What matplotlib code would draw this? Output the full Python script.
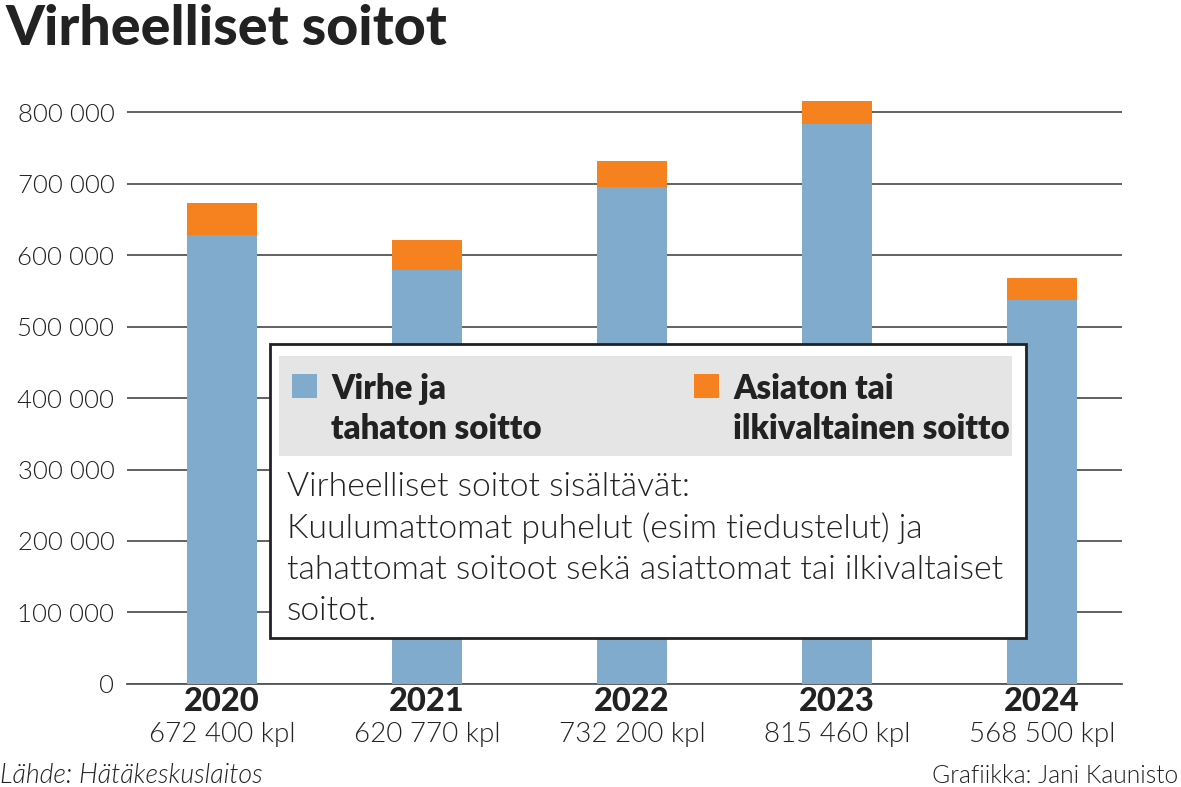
import numpy as np
import matplotlib
matplotlib.use("Agg")
import matplotlib.pyplot as plt
from matplotlib.patches import Rectangle
from matplotlib.ticker import FuncFormatter

plt.rcParams['font.family'] = ['Lato', 'DejaVu Sans']

# data
years = ['2020', '2021', '2022', '2023', '2024']
totals = [672400, 620770, 732200, 815460, 568500]
virhe = [627600, 579000, 695500, 783200, 537500]
asiaton = [t - v for t, v in zip(totals, virhe)]
yticks = [0, 100000, 200000, 300000, 400000, 500000, 600000, 700000, 800000]
legend_blue = ['Virhe ja', 'tahaton soitto']
legend_orange = ['Asiaton tai', 'ilkivaltainen soitto']
note_lines = ['Virheelliset soitot sisältävät:',
              'Kuulumattomat puhelut (esim tiedustelut) ja',
              'tahattomat soitoot sekä asiattomat tai ilkivaltaiset',
              'soitot.']

BLUE = '#80abcc'
ORANGE = '#f5821f'
TXT = '#222222'
W, H = 1181, 787


def fx(px):
    return px / W


def fy(py):
    return 1 - py / H


def space_fmt(v):
    return f"{int(v):,}".replace(',', ' ')


fig = plt.figure(figsize=(11.81, 7.87), dpi=100)
ax = fig.add_axes([0.1075, 0.1309, 0.8425, 0.754])

x = np.arange(len(years))
ax.bar(x, virhe, width=0.34, color=BLUE, zorder=3)
ax.bar(x, asiaton, width=0.34, bottom=virhe, color=ORANGE, zorder=3)

ax.set_xlim(-0.463, 4.391)
ax.set_ylim(0, 830000)
ax.set_yticks(yticks)
ax.yaxis.set_major_formatter(FuncFormatter(lambda v, p: space_fmt(v)))
ax.grid(axis='y', color='#555555', linewidth=1.3, zorder=0)
ax.tick_params(axis='y', length=0, pad=9, labelsize=18.5, labelcolor=TXT)
for lab in ax.get_yticklabels():
    lab.set_fontweight(300)
ax.set_xticks([])
for s in ['top', 'right', 'left']:
    ax.spines[s].set_visible(False)
ax.spines['bottom'].set_color('#555555')
ax.spines['bottom'].set_linewidth(1.3)

for i, (yr, tot) in enumerate(zip(years, totals)):
    ax.annotate(yr, xy=(i, 0), xycoords=('data', 'axes fraction'), xytext=(0, -27),
                textcoords='offset pixels', ha='center', va='baseline',
                fontsize=23.5, fontweight='black', color=TXT)
    ax.annotate(space_fmt(tot) + ' kpl', xy=(i, 0),
                xycoords=('data', 'axes fraction'), xytext=(0, -58),
                textcoords='offset pixels', ha='center', va='baseline',
                fontsize=20, fontweight=300, color=TXT)

# title and footers
fig.text(fx(6), fy(45), 'Virheelliset soitot', fontsize=40, fontweight='black',
         color=TXT, va='baseline', ha='left')
fig.text(0.0, fy(783), 'Lähde: Hätäkeskuslaitos', fontsize=19.3, fontweight=300,
         style='italic', color=TXT, va='baseline', ha='left')
fig.text(fx(1178), fy(783), 'Grafiikka: Jani Kaunisto', fontsize=17.7,
         fontweight=300, color=TXT, va='baseline', ha='right')

# legend / note box
fig.patches.append(Rectangle((fx(270), fy(638)), 756 / W, 294 / H,
                             transform=fig.transFigure, facecolor='white',
                             edgecolor='#222222', linewidth=2, zorder=5))
fig.patches.append(Rectangle((fx(279), fy(456)), 733 / W, 100 / H,
                             transform=fig.transFigure, facecolor='#e5e5e5',
                             edgecolor='none', zorder=6))
for sx, col, lines in [(292, BLUE, legend_blue), (694, ORANGE, legend_orange)]:
    fig.patches.append(Rectangle((fx(sx), fy(398)), 25 / W, 24 / H,
                                 transform=fig.transFigure, facecolor=col,
                                 edgecolor='none', zorder=7))
    for k, line in enumerate(lines):
        fig.text(fx(sx + 39), fy(399 + 40 * k), line, fontsize=23.7, fontweight=800,
                 color=TXT, va='baseline', ha='left', zorder=8)

for k, line in enumerate(note_lines):
    fig.text(fx(287), fy(496 + 41.5 * k), line, fontsize=24.3, fontweight=300,
             color=TXT, va='baseline', ha='left', zorder=8)

fig.savefig('out.png', dpi=100)
